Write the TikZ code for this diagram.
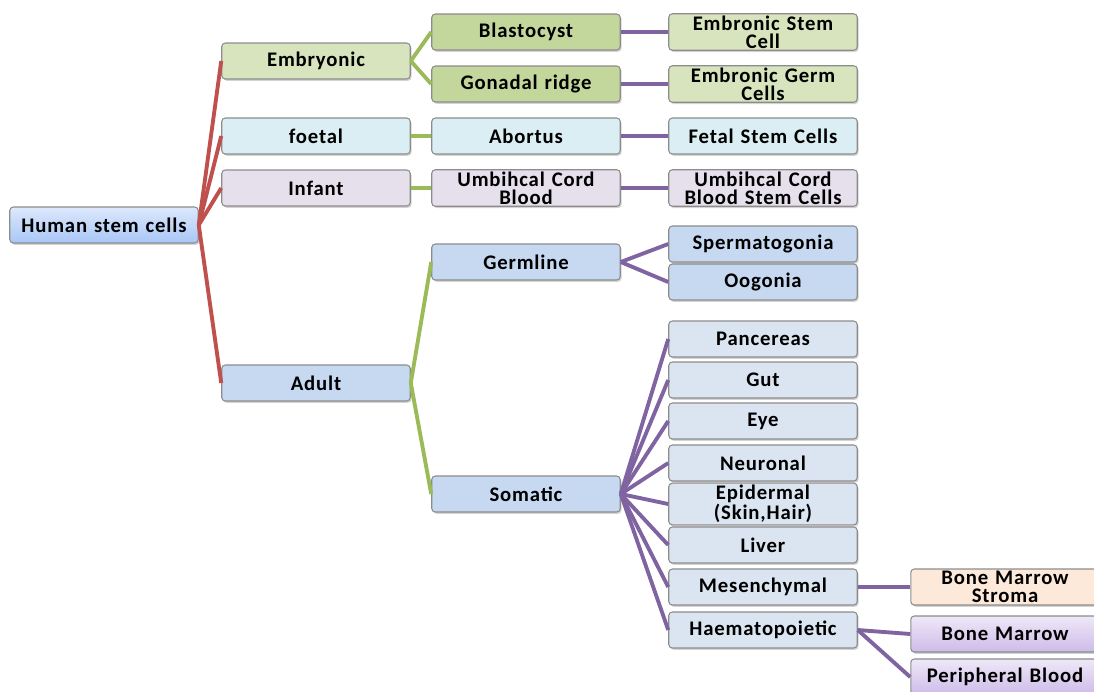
\documentclass[tikz,border=0pt]{standalone}
\usepackage{fontspec}
\setmainfont{Carlito}
\newfontfamily\stemfam[LetterSpace=4]{Carlito}
\usetikzlibrary{shadows}
\newcommand\stemfont{\stemfam\bfseries\fontsize{11.8}{10.4}\selectfont}

\definecolor{linkred}{HTML}{C0504D}
\definecolor{linkgreen}{HTML}{9BBB59}
\definecolor{linkpurple}{HTML}{8064A2}
\definecolor{embfill}{HTML}{D7E4BD}
\definecolor{embdark}{HTML}{C3D69B}
\definecolor{foefill}{HTML}{DBEEF3}
\definecolor{inffill}{HTML}{E5E0EC}
\definecolor{adufill}{HTML}{C6D9F1}
\definecolor{somfill}{HTML}{DBE5F1}
\definecolor{strfill}{HTML}{FDE9D9}
\definecolor{roottop}{HTML}{DDE9FC}
\definecolor{rootbot}{HTML}{A9C6F6}
\definecolor{bloodtop}{HTML}{EFE8F8}
\definecolor{bloodbot}{HTML}{CDBBE8}

\tikzset{
  stembox/.style={draw=black!45, line width=0.6pt, rounded corners=2pt,
    minimum width=3.76cm, minimum height=0.72cm, text width=3.7cm,
    align=center, inner sep=1pt, font=\stemfont,
    drop shadow={shadow xshift=0.8pt, shadow yshift=-1pt, opacity=0.35}},
  redlink/.style={draw=linkred, line width=2.2pt},
  greenlink/.style={draw=linkgreen, line width=2.2pt},
  purplelink/.style={draw=linkpurple, line width=2.2pt},
}

\begin{document}
\begin{tikzpicture}[x=0.02cm, y=-0.02cm]
  %%%%% START %%%%%
  \useasboundingbox (0,0) rectangle (1094,691);
  \clip (0,0) rectangle (1094,691);

  % root
  \node[stembox, top color=roottop, bottom color=rootbot] (hsc) at (104,225) {Human stem cells};

  % first level
  \node[stembox, fill=embfill] (embryonic) at (316,61) {Embryonic};
  \node[stembox, fill=foefill] (foetal) at (316,136) {foetal};
  \node[stembox, fill=inffill] (infant) at (316,188) {Infant};
  \node[stembox, fill=adufill] (adult) at (316,383) {Adult};

  % second level
  \node[stembox, fill=embdark] (blasto) at (526,32) {Blastocyst};
  \node[stembox, fill=embdark] (gonadal) at (526,84) {Gonadal ridge};
  \node[stembox, fill=foefill] (abortus) at (526,136) {Abortus};
  \node[stembox, fill=inffill] (ucb) at (526,188) {Umbihcal Cord\\Blood};
  \node[stembox, fill=adufill] (germline) at (526,262) {Germline};
  \node[stembox, fill=adufill] (somatic) at (526,494) {Somatic};

  % third level
  \node[stembox, fill=embfill] (esc) at (763,32) {Embronic Stem\\Cell};
  \node[stembox, fill=embfill] (egc) at (763,84) {Embronic Germ\\Cells};
  \node[stembox, fill=foefill] (fsc) at (763,136) {Fetal Stem Cells};
  \node[stembox, fill=inffill] (ucbsc) at (763,188) {Umbihcal Cord\\Blood Stem Cells};
  \node[stembox, fill=adufill] (sperm) at (763,244) {Spermatogonia};
  \node[stembox, fill=adufill] (oogonia) at (763,282) {Oogonia};
  \node[stembox, fill=somfill] (pancreas) at (763,339) {Pancereas};
  \node[stembox, fill=somfill] (gut) at (763,380) {Gut};
  \node[stembox, fill=somfill] (eye) at (763,421) {Eye};
  \node[stembox, fill=somfill] (neuro) at (763,463) {Neuronal};
  \node[stembox, fill=somfill] (epi) at (763,504) {Epidermal\\(Skin,Hair)};
  \node[stembox, fill=somfill] (liver) at (763,545) {Liver};
  \node[stembox, fill=somfill] (mesen) at (763,587) {Mesenchymal};
  \node[stembox, fill=somfill] (haemato) at (763,630) {Haematopoietic};

  % fourth level
  \node[stembox, fill=strfill] (stroma) at (1005,587) {Bone Marrow\\Stroma};
  \node[stembox, top color=bloodtop, bottom color=bloodbot] (marrow) at (1005,634) {Bone Marrow};
  \node[stembox, top color=bloodtop, bottom color=bloodbot] (blood) at (1005,677) {Peripheral Blood};

  % links
  \foreach \kid in {embryonic,foetal,infant,adult}
    \draw[redlink] (hsc.east) -- (\kid.west);
  \foreach \src/\kid in {embryonic/blasto,embryonic/gonadal,foetal/abortus,infant/ucb,adult/germline,adult/somatic}
    \draw[greenlink] (\src.east) -- (\kid.west);
  \foreach \src/\kid in {blasto/esc,gonadal/egc,abortus/fsc,ucb/ucbsc,germline/sperm,germline/oogonia,mesen/stroma,haemato/marrow,haemato/blood}
    \draw[purplelink] (\src.east) -- (\kid.west);
  \foreach \kid in {pancreas,gut,eye,neuro,epi,liver,mesen,haemato}
    \draw[purplelink] (somatic.east) -- (\kid.west);

  %%%%% END %%%%%
\end{tikzpicture}
\end{document}
